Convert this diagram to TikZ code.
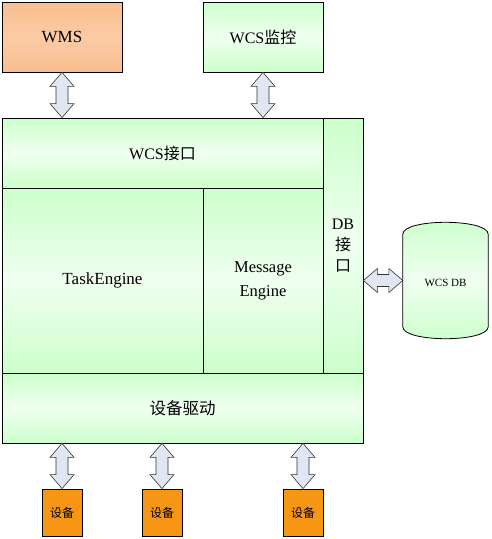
\documentclass[tikz,border=0pt]{standalone}
\usepackage{fontspec}
\setmainfont{Liberation Serif}
\newfontfamily\cjk{Noto Sans CJK SC}
\usetikzlibrary{calc}
\definecolor{gfill}{RGB}{204,255,204}
\definecolor{wmsfill}{RGB}{249,190,143}
\definecolor{devfill}{RGB}{247,150,20}
\definecolor{arrfill}{RGB}{224,230,242}
\newcommand\vdarr[2]{\draw[blk] (#1) -- ++(12,14) -- ++(-6,0) -- ($(#2)+(6,-14)$) -- ++(6,0) -- (#2) -- ++(-12,-14) -- ++(6,0) -- ($(#1)+(-6,14)$) -- ++(-6,0) -- cycle;}
\newcommand\hdarr[2]{\draw[blk] (#1) -- ++(14,-12) -- ++(0,6) -- ($(#2)+(-14,-6)$) -- ++(0,-6) -- (#2) -- ++(-14,12) -- ++(0,-6) -- ($(#1)+(14,6)$) -- ++(0,6) -- cycle;}
\begin{document}
\begin{tikzpicture}[x=1pt,y=-1pt,
  gbox/.style={draw=black, line width=0.8pt, inner sep=0pt, top color=gfill, bottom color=gfill, middle color=gfill!30!white, font=\fontsize{16}{18}\selectfont},
  obox/.style={draw=black, line width=0.8pt, inner sep=0pt, top color=wmsfill, bottom color=wmsfill, middle color=wmsfill!80!white, font=\fontsize{17}{19}\selectfont},
  devbox/.style={draw=black, line width=0.8pt, inner sep=0pt, fill=devfill, minimum width=40pt, minimum height=47pt, font=\cjk\fontsize{12}{14}\selectfont},
  blk/.style={draw=black!80, line width=0.6pt, fill=arrfill, line join=miter}]
\useasboundingbox (0,0) rectangle (491,539);
% top boxes
\node[obox, minimum width=120pt, minimum height=70pt] (wms) at (62,37) {WMS};
\node[gbox, minimum width=120pt, minimum height=70pt] (mon) at (263,37) {WCS{\cjk 监控}};
% main blocks
\node[gbox, minimum width=321pt, minimum height=70pt] (wcsif) at (162.5,153) {WCS{\cjk 接口}};
\node[gbox, minimum width=40pt, minimum height=255pt, align=center] (dbif) at (343,245.5) {DB\\[3pt]{\cjk 接}\\[3pt]{\cjk 口}};
\node[gbox, minimum width=201pt, minimum height=185pt, font=\fontsize{17}{19}\selectfont] (task) at (102.5,280.5) {TaskEngine};
\node[gbox, minimum width=120pt, minimum height=185pt, align=center, font=\fontsize{16.5}{24}\selectfont] (msg) at (263,280.5) {Message\\Engine};
\node[gbox, minimum width=361pt, minimum height=70pt, font=\cjk\fontsize{16.5}{18}\selectfont] (drv) at (182.5,408) {设备驱动};
% database
\node[minimum width=85pt, minimum height=116pt, inner sep=0pt] (db) at (445.5,280.5) {};
\path[draw=black, line width=0.8pt, top color=gfill, bottom color=gfill, middle color=gfill!30!white]
  ($(db.north west)+(0,12)$) .. controls ($(db.north west)+(0,-4)$) and ($(db.north east)+(0,-4)$) .. ($(db.north east)+(0,12)$)
  -- ($(db.south east)+(0,-12)$) .. controls ($(db.south east)+(0,4)$) and ($(db.south west)+(0,4)$) .. ($(db.south west)+(0,-12)$) -- cycle;
\node[font=\fontsize{11}{13}\selectfont] (dbl) at ($(db.center)+(0,2)$) {WCS DB};
% devices
\node[devbox] (dev1) at (62,512.5) {设备};
\node[devbox] (dev2) at (162,512.5) {设备};
\node[devbox] (dev3) at (303,512.5) {设备};
% arrows
\coordinate (a1) at (wms.south |- wcsif.north);
\coordinate (a2) at (mon.south |- wcsif.north);
\coordinate (b1) at (drv.south -| dev1.north);
\coordinate (b2) at (drv.south -| dev2.north);
\coordinate (b3) at (drv.south -| dev3.north);
\coordinate (c1) at (dbif.east |- db.west);
\vdarr{wms.south}{a1}
\vdarr{mon.south}{a2}
\vdarr{b1}{dev1.north}
\vdarr{b2}{dev2.north}
\vdarr{b3}{dev3.north}
\hdarr{c1}{db.west}
\end{tikzpicture}
\end{document}
